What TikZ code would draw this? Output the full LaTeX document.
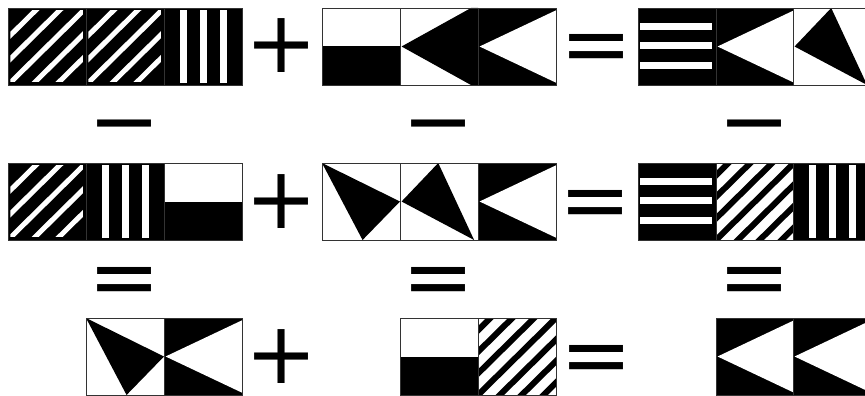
\documentclass[tikz,border=0pt]{standalone}
\usepackage{fontspec}
\newfontfamily\opfont{DejaVu Sans}
\usepackage{tikz}
\usetikzlibrary{positioning}
\tikzset{
  tileunits/.style={x=78pt, y=-77pt},
  tilebox/.style={rectangle, draw=black!80, line width=0.9pt, minimum width=78pt, minimum height=77pt, inner sep=0pt},
  op/.style={inner sep=0pt, anchor=base, font=\opfont\fontsize{86}{90}\selectfont},
  hatch/.pic={\begin{scope}[tileunits]
    \fill[black] (0,0) rectangle (1,1);
    \begin{scope}
      \clip (0.03,0.03) rectangle (0.96,0.96);
      \foreach \c in {0.385,0.692,1,1.308,1.615}
        \draw[white, line width=5pt] ({\c+0.3},-0.3) -- ({\c-1.3},1.3);
    \end{scope}
    \node[tilebox] (-box) at (0.5,0.5) {};
  \end{scope}},
  invhatch/.pic={\begin{scope}[tileunits]
    \fill[white] (0,0) rectangle (1,1);
    \begin{scope}
      \clip (0,0) rectangle (1,1);
      \foreach \c in {0.16,0.44,0.72,1,1.28,1.56,1.84}
        \draw[black, line width=6pt] ({\c+0.3},-0.3) -- ({\c-1.3},1.3);
    \end{scope}
    \node[tilebox] (-box) at (0.5,0.5) {};
  \end{scope}},
  vstripes/.pic={\begin{scope}[tileunits]
    \fill[black] (0,0) rectangle (1,1);
    \foreach \u in {0.205,0.462,0.718}
      \fill[white] (\u,0.03) rectangle ({\u+0.09},0.97);
    \node[tilebox] (-box) at (0.5,0.5) {};
  \end{scope}},
  hstripes/.pic={\begin{scope}[tileunits]
    \fill[black] (0,0) rectangle (1,1);
    \foreach \v in {0.19,0.44,0.70}
      \fill[white] (0.03,\v) rectangle (0.95,{\v+0.09});
    \node[tilebox] (-box) at (0.5,0.5) {};
  \end{scope}},
  halfbw/.pic={\begin{scope}[tileunits]
    \fill[white] (0,0) rectangle (1,0.5);
    \fill[black] (0,0.5) rectangle (1,1);
    \node[tilebox] (-box) at (0.5,0.5) {};
  \end{scope}},
  ltri/.pic={\begin{scope}[tileunits]
    \fill[black] (0,0) rectangle (1,1);
    \fill[white] (0.02,0.5) -- (1,0.03) -- (1,0.97) -- cycle;
    \node[tilebox] (-box) at (0.5,0.5) {};
  \end{scope}},
  tri1/.pic={\begin{scope}[tileunits]
    \fill[white] (0,0) rectangle (1,1);
    \fill[black] (0,0) -- (1,0.5) -- (0.52,1) -- cycle;
    \node[tilebox] (-box) at (0.5,0.5) {};
  \end{scope}},
  tri2/.pic={\begin{scope}[tileunits]
    \fill[white] (0,0) rectangle (1,1);
    \fill[black] (0.02,0.5) -- (0.49,0) -- (0.95,1) -- cycle;
    \node[tilebox] (-box) at (0.5,0.5) {};
  \end{scope}},
  tri3/.pic={\begin{scope}[tileunits]
    \fill[white] (0,0) rectangle (1,1);
    \fill[black] (0.02,0.5) -- (0.91,0) -- (1,0) -- (1,1) -- (0.91,1) -- cycle;
    \node[tilebox] (-box) at (0.5,0.5) {};
  \end{scope}}
}

\begin{document}
\begin{tikzpicture}[x=1pt, y=-1pt]
  \useasboundingbox (0,0) rectangle (865,396);
  \clip (0,0) rectangle (865,396);
  % row 1
  \pic (l1a) at (8,8) {hatch};
  \pic (l1b) at (86,8) {hatch};
  \pic (l1c) at (164,8) {vstripes};
  \pic (m1a) at (322,8) {halfbw};
  \pic (m1b) at (400,8) {tri3};
  \pic (m1c) at (478,8) {ltri};
  \pic (r1a) at (638,8) {hstripes};
  \pic (r1b) at (716,8) {ltri};
  \pic (r1c) at (793,8) {tri2};
  \node[op] (p1) at (282,72.5) {+};
  \node[op] (e1) at (596.5,73.5) {=};
  % between rows
  \node[op] (n1) at (125,150) {−};
  \node[op] (n2) at (439,150) {−};
  \node[op] (n3) at (755,150) {−};
  % row 2
  \pic (l2a) at (8,163) {hatch};
  \pic (l2b) at (86,163) {vstripes};
  \pic (l2c) at (164,163) {halfbw};
  \pic (m2a) at (322,163) {tri1};
  \pic (m2b) at (400,163) {tri2};
  \pic (m2c) at (478,163) {ltri};
  \pic (r2a) at (638,163) {hstripes};
  \pic (r2b) at (716,163) {invhatch};
  \pic (r2c) at (793,163) {vstripes};
  \node[op] (p2) at (282,228) {+};
  \node[op] (e2) at (596,229) {=};
  \node[op] (q1) at (125,306.5) {=};
  \node[op] (q2) at (439,306.5) {=};
  \node[op] (q3) at (755,306.5) {=};
  % row 3
  \pic (l3b) at (86,318) {tri1};
  \pic (l3c) at (164,318) {ltri};
  \pic (m3b) at (400,318) {halfbw};
  \pic (m3c) at (478,318) {invhatch};
  \pic (r3b) at (716,318) {ltri};
  \pic (r3c) at (793,318) {ltri};
  \node[op] (p3) at (282,383) {+};
  \node[op] (e3) at (596.5,384) {=};
\end{tikzpicture}
\end{document}
